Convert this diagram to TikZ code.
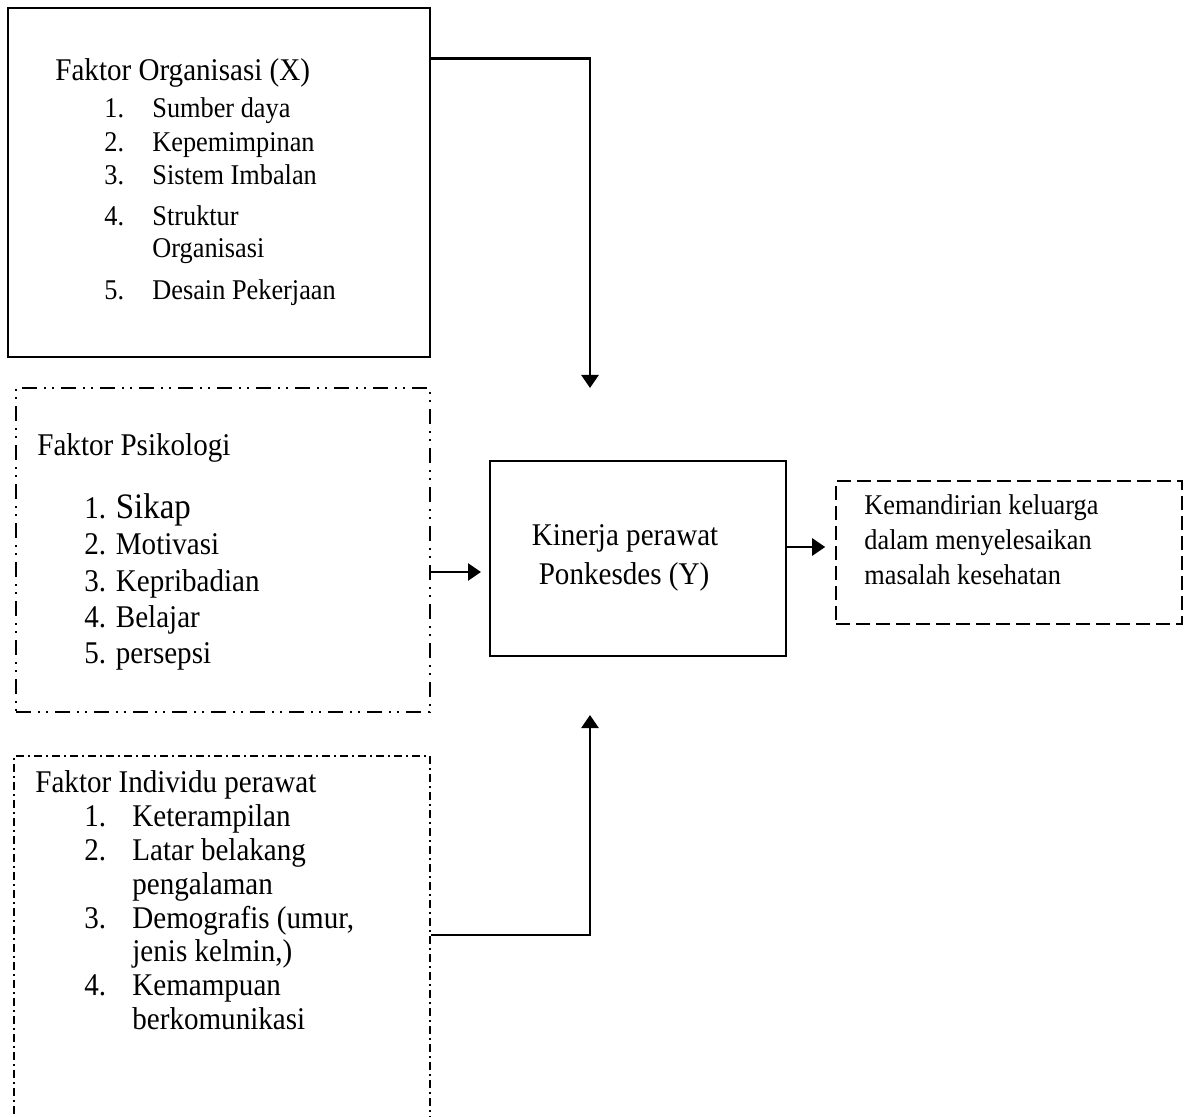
\documentclass[tikz,border=0pt]{standalone}
\usepackage{fontspec}
\setmainfont{Liberation Serif}[FakeStretch=0.92]
\usetikzlibrary{arrows.meta}

\begin{document}
\begin{tikzpicture}[x=0.5pt,y=-0.5pt,
    solidbox/.style={draw,line width=1.4pt,inner sep=0pt},
    psibox/.style={draw,line width=0.9pt,inner sep=0pt,dash pattern=on 7.5pt off 3.5pt on 1pt off 3pt on 1pt off 3.5pt},
    indbox/.style={draw,line width=0.9pt,inner sep=0pt,dash pattern=on 4pt off 2pt on 1pt off 2pt},
    outbox/.style={draw,line width=0.8pt,inner sep=0pt,dash pattern=on 7pt off 3pt},
    arr/.style={line width=1.3pt,-{Triangle[length=6.5pt,width=8.5pt]}},
    txt/.style={anchor=base west,inner sep=0pt,font=\fontsize{15.8}{18}\selectfont},
    sml/.style={anchor=base west,inner sep=0pt,font=\fontsize{14.3}{17}\selectfont}]
    \clip (0,0) rectangle (1193,1117);
    \fill[white] (0,0) rectangle (1193,1117);

    % boxes
    \node[solidbox,minimum width=211pt,minimum height=174.5pt] (org) at (219,182.5) {};
    \node[psibox,minimum width=207pt,minimum height=162pt] (psi) at (223,550) {};
    \node[indbox,minimum width=208pt,minimum height=192pt] (ind) at (222,948) {};
    \node[solidbox,line width=1pt,minimum width=148pt,minimum height=97.5pt] (kin) at (638,558.5) {};
    \node[outbox,minimum width=173pt,minimum height=71.5pt] (out) at (1009,552.5) {};

    % Faktor Organisasi
    \node[txt] (orghd) at (55,81) {Faktor Organisasi (X)};
    \foreach \y/\n/\t [count=\k] in {118/1./Sumber daya,152/2./Kepemimpinan,185/3./Sistem Imbalan,
        226/4./Struktur,258//Organisasi,300/5./Desain Pekerjaan} {
        \node[sml] (orgn\k) at (104,\y) {\n};
        \node[sml] (orgi\k) at (152,\y) {\t};
    }

    % Faktor Psikologi
    \node[txt] (psihd) at (37,455) {Faktor Psikologi};
    \node[txt] (psi1) at (84,518) {1. {\fontsize{17.9}{20}\selectfont Sikap}};
    \foreach \y/\t [count=\k from 2] in {554/2. Motivasi,591/3. Kepribadian,627/4. Belajar,663/5. persepsi}
        \node[txt] (psi\k) at (84,\y) {\t};

    % Faktor Individu
    \node[txt] (indhd) at (35,792) {Faktor Individu perawat};
    \foreach \y/\n/\t [count=\k] in {826/1./Keterampilan,860/2./Latar belakang,894//pengalaman,
        928/3./{Demografis (umur,},961//{jenis kelmin,)},995/4./Kemampuan,1029//berkomunikasi} {
        \node[txt] (indn\k) at (84,\y) {\n};
        \node[txt] (indi\k) at (132,\y) {\t};
    }

    % Kinerja
    \node[txt,anchor=base] (kin1) at (625,545) {Kinerja perawat};
    \node[txt,anchor=base] (kin2) at (624,584) {Ponkesdes (Y)};

    % Kemandirian
    \node[sml] (out1) at (864,514) {Kemandirian keluarga};
    \node[sml] (out2) at (864,549) {dalam menyelesaikan};
    \node[sml] (out3) at (864,584) {masalah kesehatan};

    % arrows
    \coordinate (kintop) at (590,388);
    \coordinate (kinbot) at (590,715);
    \draw[arr] ([yshift=-26pt]org.north east) -| (kintop);
    \draw[arr] ([yshift=-11pt]psi.east) -- ([xshift=-4pt,yshift=-6.75pt]kin.west);
    \draw[arr] ([yshift=5.75pt]kin.east) -- ([xshift=-5pt,yshift=2.75pt]out.west);
    \draw[arr] ([yshift=6.5pt]ind.east) -| (kinbot);
\end{tikzpicture}
\end{document}
